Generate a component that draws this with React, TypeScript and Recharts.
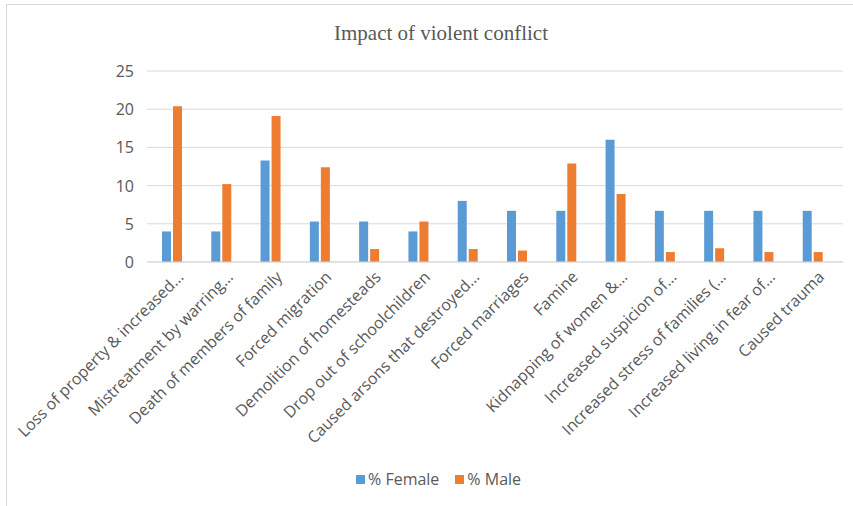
import React from 'react';
import { BarChart, Bar, XAxis, YAxis, CartesianGrid } from 'recharts';

const categories = [
  'Loss of property & increased…',
  'Mistreatment by warring…',
  'Death of members of family',
  'Forced migration',
  'Demolition of homesteads',
  'Drop out of schoolchildren',
  'Caused arsons that destroyed…',
  'Forced marriages',
  'Famine',
  'Kidnapping of women &…',
  'Increased suspicion of…',
  'Increased stress of families (…',
  'Increased living in fear of…',
  'Caused trauma',
];

const female = [4, 4, 13.3, 5.3, 5.3, 4, 8, 6.7, 6.7, 16, 6.7, 6.7, 6.7, 6.7];
const male = [20.4, 10.2, 19.1, 12.4, 1.7, 5.3, 1.7, 1.5, 12.9, 8.9, 1.3, 1.8, 1.3, 1.3];

const yTicks = [0, 5, 10, 15, 20, 25];

const BLUE = '#5B9BD5';
const ORANGE = '#ED7D31';
const TEXT = '#595959';
const FONT = '"Open Sans", sans-serif';

const data = categories.map((name, i) => ({ name, female: female[i], male: male[i] }));

const XTick = (props: any) => {
  const { x, payload } = props;
  return (
    <g transform={`translate(${x + 13},${262 + 16}) rotate(-45)`}>
      <text textAnchor="end" fontSize={16} fill={TEXT} fontFamily={FONT}>
        {payload.value}
      </text>
    </g>
  );
};

const YTick = (props: any) => {
  const { y, payload } = props;
  return (
    <text x={134} y={y} dy={6} textAnchor="end" fontSize={16} fill={TEXT} fontFamily={FONT}>
      {payload.value}
    </text>
  );
};

const LegendItem = ({ color, label }: { color: string; label: string }) => (
  <div style={{ display: 'flex', alignItems: 'center' }}>
    <div style={{ width: 9, height: 9, background: color, marginRight: 3 }} />
    <span>{label}</span>
  </div>
);

export default function App() {
  return (
    <div style={{ position: 'absolute', left: 0, top: 0, width: 853, height: 506, overflow: 'hidden', background: '#fff' }}>
      <div style={{ position: 'absolute', left: 6, top: 4, width: 900, height: 600, border: '1px solid #d9d9d9' }} />
      <div
        style={{
          position: 'absolute',
          left: 241,
          width: 400,
          top: 19,
          textAlign: 'center',
          fontFamily: '"Liberation Serif", "Times New Roman", serif',
          fontSize: 21,
          color: TEXT,
          lineHeight: '28px',
        }}
      >
        Impact of violent conflict
      </div>
      <div style={{ position: 'absolute', left: 0, top: 0 }}>
        <BarChart
          width={853}
          height={506}
          data={data}
          margin={{ top: 71, right: 10, bottom: 0, left: 0 }}
          barSize={9}
          barGap={2}
        >
          <CartesianGrid vertical={false} stroke="#d9d9d9" />
          <XAxis
            dataKey="name"
            interval={0}
            height={244}
            padding={{ left: 0, right: 6 }}
            tickLine={false}
            axisLine={{ stroke: '#d9d9d9' }}
            tick={<XTick />}
          />
          <YAxis
            width={147}
            domain={[0, 25]}
            ticks={yTicks}
            axisLine={false}
            tickLine={false}
            tick={<YTick />}
          />
          <Bar dataKey="female" name="% Female" fill={BLUE} isAnimationActive={false} />
          <Bar dataKey="male" name="% Male" fill={ORANGE} isAnimationActive={false} />
        </BarChart>
      </div>
      <div
        style={{
          position: 'absolute',
          left: 356,
          top: 467,
          display: 'flex',
          gap: 16,
          fontFamily: FONT,
          fontSize: 16,
          color: TEXT,
          lineHeight: '24px',
        }}
      >
        <LegendItem color={BLUE} label="% Female" />
        <LegendItem color={ORANGE} label="% Male" />
      </div>
    </div>
  );
}
